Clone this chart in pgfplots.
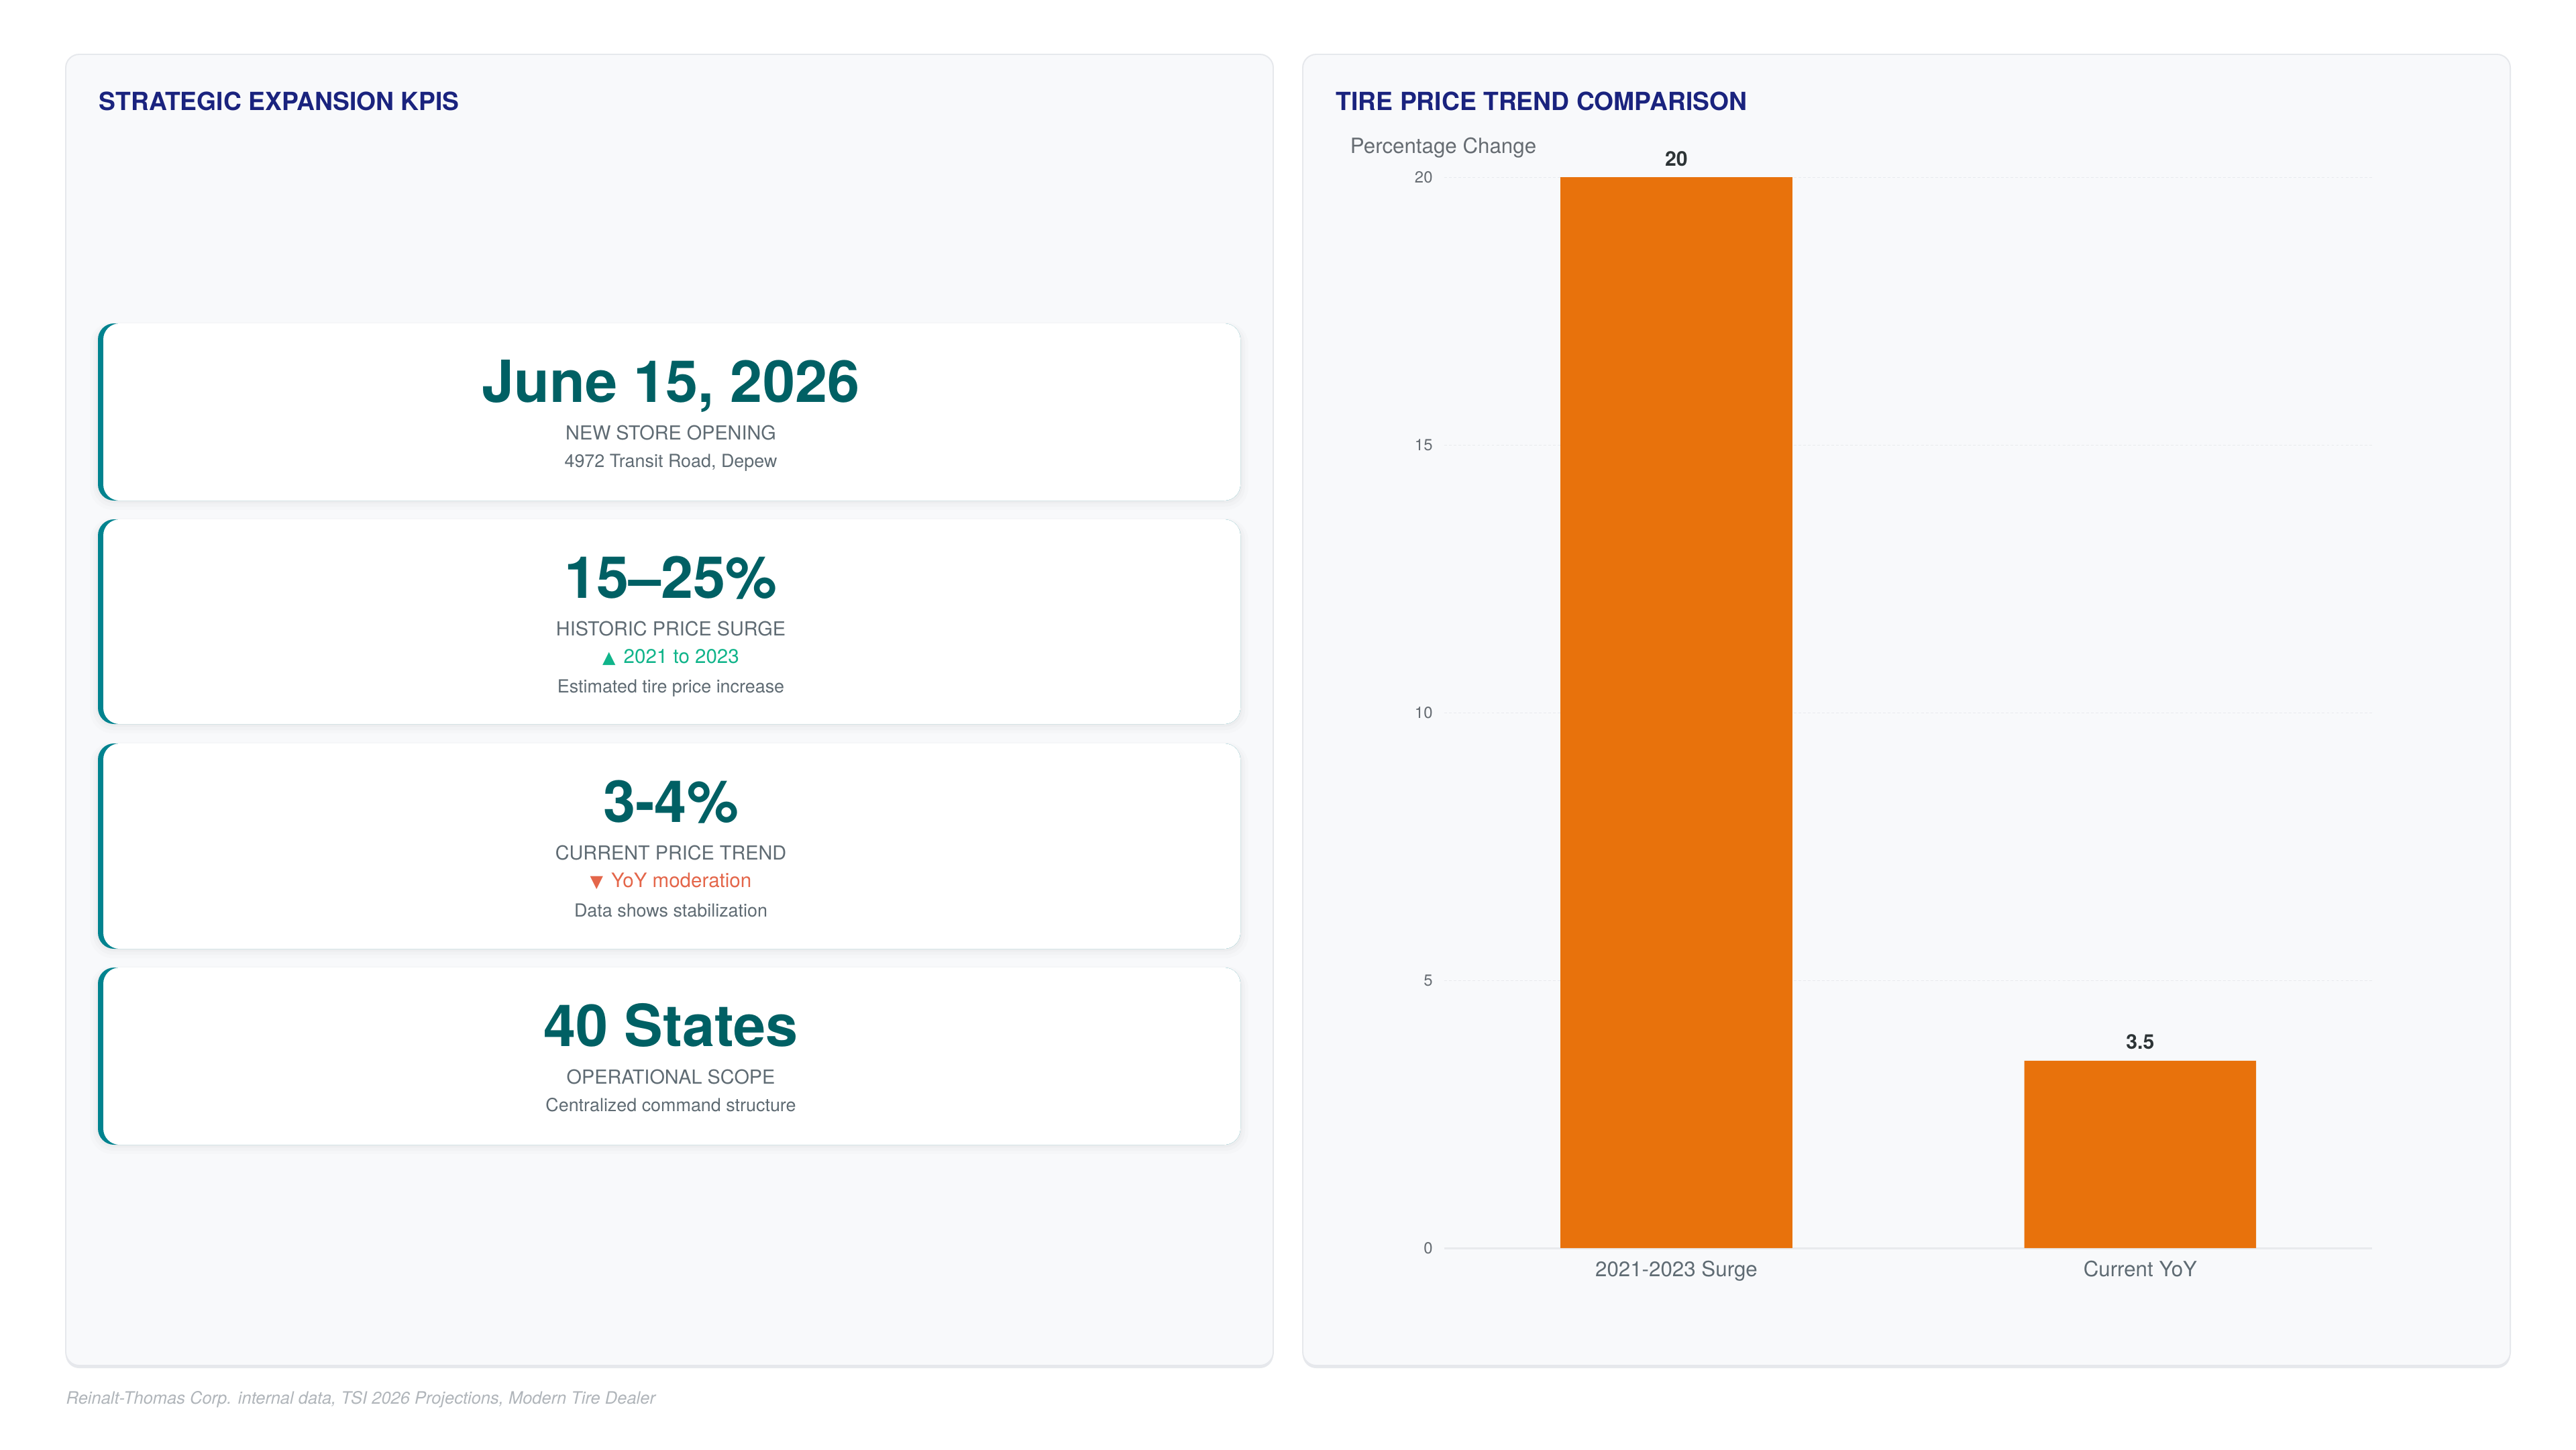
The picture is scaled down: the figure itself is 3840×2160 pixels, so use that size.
\documentclass[border=0pt]{standalone}
\usepackage{pgfplots}
\pgfplotsset{compat=1.18}
\usepackage{fontspec}
\setmainfont{TeX Gyre Heros}
\newfontfamily\symfont{DejaVu Sans}

\definecolor{panelbg}{HTML}{F8F9FB}
\definecolor{panelline}{HTML}{E6E8EC}
\definecolor{titleblue}{HTML}{1A237E}
\definecolor{tealedge}{HTML}{00838F}
\definecolor{tealtext}{HTML}{006064}
\definecolor{labelgray}{HTML}{5F6B73}
\definecolor{upgreen}{HTML}{10B48A}
\definecolor{downred}{HTML}{E4664A}
\definecolor{footgray}{HTML}{B0B5BA}
\definecolor{barorange}{HTML}{E8720C}
\definecolor{valdark}{HTML}{2D3436}
\definecolor{tickgray}{HTML}{666C72}
\definecolor{gridgray}{HTML}{E8EAED}

\newcommand{\fs}[1]{\fontsize{#1}{#1}\selectfont}

% one KPI card: top, bottom
\newcommand{\card}[2]{%
  \fill[black, opacity=0.012, rounded corners=0.34cm] (134,#1-2) rectangle (1861,#2+14);
  \fill[black, opacity=0.015, rounded corners=0.3cm] (139,#1) rectangle (1856,#2+9);
  \fill[black, opacity=0.018, rounded corners=0.26cm] (143,#1+2) rectangle (1852,#2+4);
  \fill[tealedge, rounded corners=0.24cm] (146,#1) rectangle (1849,#2);
  \fill[white, rounded corners=0.24cm] (154,#1) rectangle (1849,#2);
}

\begin{document}
\begin{tikzpicture}[x=0.01cm, y=-0.01cm]
\fill[white] (0,0) rectangle (3840,2160);
\path[use as bounding box] (0,0) rectangle (3840,2160);

% panels
\foreach \l/\r in {98/1898, 1942/3742}{
  \fill[panelline, rounded corners=0.2cm] (\l,84) rectangle (\r,2039);
  \filldraw[fill=panelbg, draw=panelline, line width=0.55pt, rounded corners=0.2cm] (\l,81) rectangle (\r,2035);
}

\node[anchor=base west, inner sep=0, font=\fs{10.6pt}\bfseries, text=titleblue] at (147,164) {STRATEGIC EXPANSION KPIS};
\node[anchor=base west, inner sep=0, font=\fs{10.6pt}\bfseries, text=titleblue] at (1991,164) {TIRE PRICE TREND COMPARISON};

% cards
\card{482}{746}
\card{774}{1079}
\card{1108}{1414}
\card{1442}{1706}

\tikzset{big/.style={anchor=base, inner sep=0, font=\fs{24.6pt}\bfseries, text=tealtext},
         lab/.style={anchor=base, inner sep=0, font=\fs{8.2pt}, text=labelgray},
         desc/.style={anchor=base, inner sep=0, font=\fs{7.65pt}, text=labelgray}}

\node[big] at (1000,599) {June 15, 2026};
\node[lab] at (1000,655) {NEW STORE OPENING};
\node[desc] at (1000,696) {4972 Transit Road, Depew};

\node[big] at (1000,891) {15–25\%};
\node[lab] at (1000,947) {HISTORIC PRICE SURGE};
\node[lab, font=\fs{8.4pt}, text=upgreen] at (1000,988) {{\symfont\fs{7.2pt}▲}\hspace{0.12cm}2021 to 2023};
\node[desc] at (1000,1032) {Estimated tire price increase};

\node[big] at (1000,1225) {3-4\%};
\node[lab] at (1000,1281) {CURRENT PRICE TREND};
\node[lab, font=\fs{8.4pt}, text=downred] at (1000,1322) {{\symfont\fs{7.2pt}▼}\hspace{0.12cm}YoY moderation};
\node[desc] at (1000,1366) {Data shows stabilization};

\node[big] at (1000,1559) {40 States};
\node[lab] at (1000,1615) {OPERATIONAL SCOPE};
\node[desc] at (1000,1656) {Centralized command structure};

\node[anchor=base west, inner sep=0, font=\fs{7.25pt}\itshape, text=footgray] at (98,2092)
  {Reinalt-Thomas Corp. internal data, TSI 2026 Projections, Modern Tire Dealer};

% bar chart
\begin{axis}[
  at={(21.52cm,-18.59cm)}, anchor=south west,
  scale only axis, width=13.82cm, height=15.95cm,
  xmin=-0.5, xmax=1.5, ymin=0, ymax=20,
  xtick={0,1}, xticklabels={2021-2023 Surge, Current YoY},
  ytick={0,5,10,15,20},
  axis x line*=bottom, axis y line*=left,
  x axis line style={draw=gridgray, line width=0.85pt, -},
  y axis line style={draw=none},
  tick style={draw=none}, major tick length=0pt,
  ymajorgrids, grid style={dash pattern=on 1.1pt off 0.9pt, gridgray, line width=0.35pt},
  /pgf/number format/assume math mode=true,
  yticklabel style={font=\fs{6.8pt}, text=tickgray, anchor=east, inner sep=0, xshift=-0.17cm},
  xticklabel style={font=\fs{8.9pt}, text=labelgray, anchor=north, inner sep=0, yshift=-0.18cm},
  ylabel={Percentage Change},
  every axis y label/.style={at={(axis description cs:0,1)}, anchor=base west,
    xshift=-1.41cm, yshift=0.36cm, inner sep=0, font=\fs{8.9pt}, text=tickgray},
  clip=false,
]
\addplot[ybar, bar width=0.5, fill=barorange, draw=none,
  nodes near coords,
  every node near coord/.append style={font=\fs{8.6pt}\bfseries, text=valdark, anchor=south, inner sep=0, yshift=0.16cm}]
  coordinates {(0,20) (1,3.5)};
\end{axis}
\end{tikzpicture}
\end{document}
